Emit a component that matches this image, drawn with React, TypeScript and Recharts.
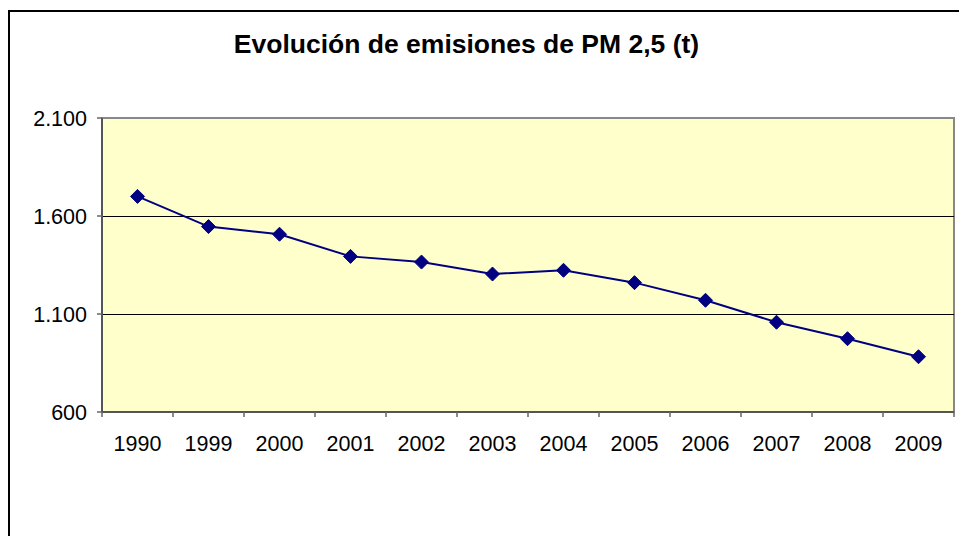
import React from "react";
import {
  LineChart,
  Line,
  XAxis,
  YAxis,
  ReferenceArea,
  ReferenceLine,
} from "recharts";

const years = ["1990", "1999", "2000", "2001", "2002", "2003", "2004", "2005", "2006", "2007", "2008", "2009"];
const emissions = [1700, 1546, 1507, 1394, 1365, 1304, 1323, 1260, 1170, 1058, 974, 882];
const yTicks = [600, 1100, 1600, 2100];
const gridValues = [1100, 1600];

const W = 959;
const H = 536;
const MARGIN = { top: 118, right: 5, bottom: 94, left: 42 };
const Y_AXIS_W = 60;
const X_AXIS_H = 30;
const PLOT_W = W - MARGIN.left - MARGIN.right - Y_AXIS_W;
const HALF = PLOT_W / years.length / 2;
const FONT = "'Liberation Sans', Arial, sans-serif";

const data = years.map((year, i) => ({ year, x: i + 0.5, value: emissions[i] }));
const edgeTicks = years.map((_, i) => i).concat(years.length);

const formatThousands = (n: number): string => {
  if (n < 1000) return String(n);
  const rest = String(n % 1000).padStart(3, "0");
  return `${Math.floor(n / 1000)}.${rest}`;
};

const Diamond = (props: any) => {
  const { cx, cy } = props;
  if (cx == null || cy == null) return null;
  const r = 7;
  return (
    <polygon
      points={`${cx},${cy - r} ${cx + r},${cy} ${cx},${cy + r} ${cx - r},${cy}`}
      fill="#000080"
      stroke="#000080"
    />
  );
};

const YearTick = (props: any) => {
  const { x, y, payload } = props;
  const idx = payload.value;
  if (idx >= years.length) return <g />;
  return (
    <text
      x={x + HALF}
      y={y}
      dy={32}
      textAnchor="middle"
      fontSize={21.5}
      fontFamily={FONT}
      fill="#000"
    >
      {years[idx]}
    </text>
  );
};

export default function App() {
  return (
    <div style={{ position: "absolute", left: 0, top: 0, width: W, height: H, background: "#fff", overflow: "hidden" }}>
      <div
        style={{
          position: "absolute",
          left: 8,
          top: 10,
          width: W,
          height: H,
          borderTop: "2px solid #000",
          borderLeft: "2px solid #000",
        }}
      />
      <div
        style={{
          position: "absolute",
          left: 0,
          top: 31,
          width: 933,
          textAlign: "center",
          fontFamily: FONT,
          fontWeight: "bold",
          fontSize: 26.5,
          lineHeight: "26px",
          color: "#000",
        }}
      >
        Evolución de emisiones de PM 2,5 (t)
      </div>
      <div style={{ position: "absolute", left: 0, top: 0 }}>
        <LineChart width={W} height={H} data={data} margin={MARGIN}>
          <ReferenceArea
            x1={0}
            x2={years.length}
            y1={600}
            y2={2100}
            fill="#FFFFCC"
            fillOpacity={1}
            stroke="#888"
            strokeWidth={2}
          />
          {gridValues.map((v) => (
            <ReferenceLine
              key={v}
              y={v}
              stroke="#000"
              strokeWidth={1}
              strokeOpacity={1}
              shapeRendering="crispEdges"
            />
          ))}
          <XAxis
            dataKey="x"
            type="number"
            domain={[0, years.length]}
            ticks={edgeTicks}
            interval={0}
            height={X_AXIS_H}
            tickSize={5}
            tick={<YearTick />}
            axisLine={{ stroke: "#555", strokeWidth: 2 }}
            tickLine={{ stroke: "#666", strokeWidth: 1.5 }}
          />
          <YAxis
            domain={[600, 2100]}
            ticks={yTicks}
            width={Y_AXIS_W}
            tickSize={5}
            tickMargin={10}
            tickFormatter={formatThousands}
            tick={{ fontSize: 21.5, fontFamily: FONT, fill: "#000" }}
            axisLine={{ stroke: "#555", strokeWidth: 2 }}
            tickLine={{ stroke: "#666", strokeWidth: 1.5 }}
          />
          <Line
            dataKey="value"
            stroke="#000080"
            strokeWidth={2}
            dot={<Diamond />}
            activeDot={false}
            isAnimationActive={false}
          />
        </LineChart>
      </div>
    </div>
  );
}
